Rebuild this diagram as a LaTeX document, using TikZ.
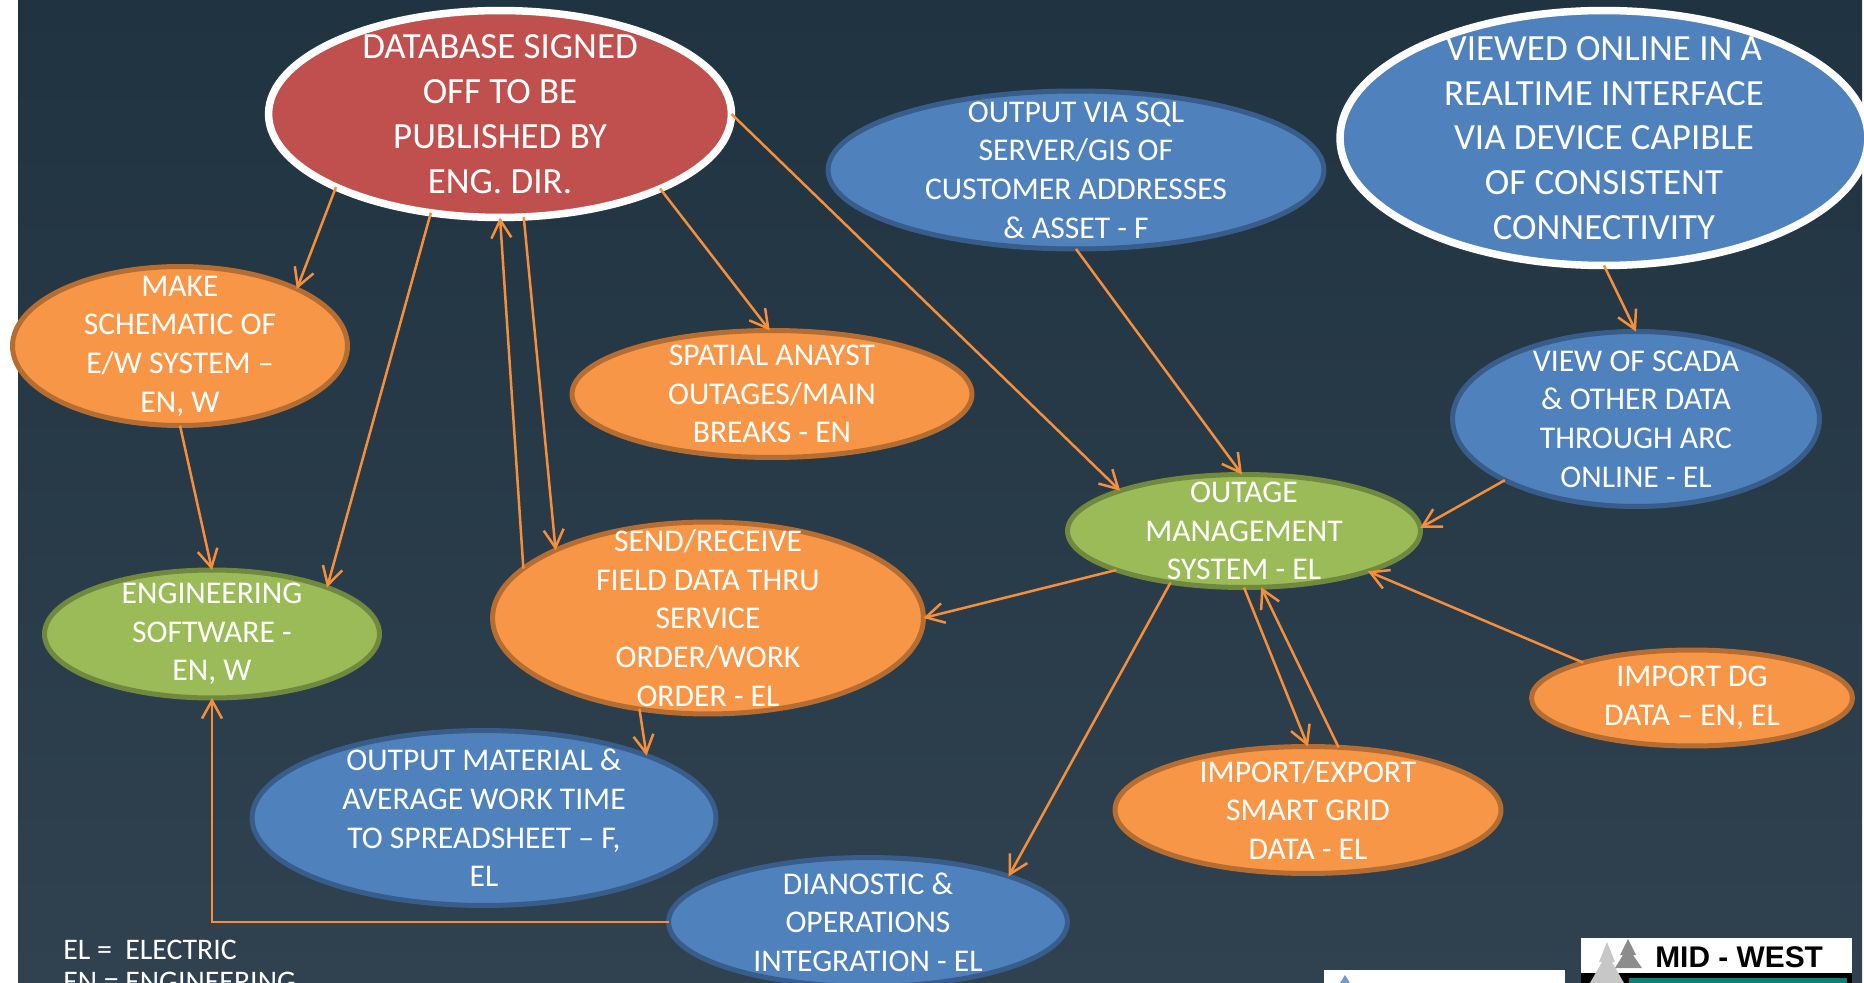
\documentclass[tikz,border=0pt]{standalone}
\usepackage{fontspec}
\setmainfont{Carlito}
\newfontfamily\logofont{Liberation Sans}
\usetikzlibrary{arrows.meta,shapes.geometric}

\definecolor{nightblue}{HTML}{203340}
\definecolor{dusk}{HTML}{304250}
\definecolor{ovalorange}{HTML}{F79646}
\definecolor{ovalorangeline}{HTML}{B66D31}
\definecolor{ovalblue}{HTML}{4F81BD}
\definecolor{ovalblueline}{HTML}{385D8A}
\definecolor{ovalgreen}{HTML}{9BBB59}
\definecolor{ovalgreenline}{HTML}{71893F}
\definecolor{ovalred}{HTML}{C0504D}
\definecolor{linkorange}{HTML}{F68F3C}
\definecolor{logoteal}{HTML}{0F7F78}

\tikzset{
    oval/.style={ellipse, inner sep=-2cm, outer sep=0pt, align=center, text=white, line width=0.1cm,
        font=\fontsize{18}{22}\selectfont},
    orangeoval/.style={oval, fill=ovalorange, draw=ovalorangeline},
    blueoval/.style={oval, fill=ovalblue, draw=ovalblueline},
    greenoval/.style={oval, fill=ovalgreen, draw=ovalgreenline},
    whiteoval/.style={oval, draw=white, line width=0.15cm, font=\fontsize{21}{25.5}\selectfont},
    link/.style={draw=linkorange, line width=0.05cm, -{Straight Barb[length=3.6mm,width=4mm]}},
    legend/.style={anchor=west, text=white, inner sep=0pt, font=\fontsize{17}{20}\selectfont},
}

\begin{document}
\begin{tikzpicture}[x=0.02cm, y=-0.02cm]
            \clip (0, 0) rectangle (1864, 983);
            \fill[white] (0, 0) rectangle (1864, 983);
            \shade[top color=nightblue, bottom color=dusk] (18, 0) rectangle (1862, 983);

            % the ovals
            \node[whiteoval, fill=ovalred, minimum width=9.26cm, minimum height=4.14cm] (signoff) at (500, 114)
                {DATABASE SIGNED\\OFF TO BE\\PUBLISHED BY\\ENG. DIR.};
            \node[whiteoval, fill=ovalblue, minimum width=10.56cm, minimum height=5.1cm] (realtime) at (1604, 138)
                {VIEWED ONLINE IN A\\REALTIME INTERFACE\\VIA DEVICE CAPIBLE\\OF CONSISTENT\\CONNECTIVITY};
            \node[blueoval, minimum width=9.92cm, minimum height=3.16cm] (sqlout) at (1076, 170)
                {OUTPUT VIA SQL\\SERVER/GIS OF\\CUSTOMER ADDRESSES\\\& ASSET - F};
            \node[blueoval, minimum width=7.34cm, minimum height=3.5cm] (scada) at (1636, 419)
                {VIEW OF SCADA\\\& OTHER DATA\\THROUGH ARC\\ONLINE - EL};
            \node[orangeoval, minimum width=6.7cm, minimum height=3.18cm] (schematic) at (180, 346)
                {MAKE\\SCHEMATIC OF\\E/W SYSTEM --\\EN, W};
            \node[orangeoval, minimum width=8cm, minimum height=2.54cm] (spatial) at (772, 394)
                {SPATIAL ANAYST\\OUTAGES/MAIN\\BREAKS - EN};
            \node[greenoval, minimum width=7.06cm, minimum height=2.26cm] (outage) at (1244, 531)
                {OUTAGE\\MANAGEMENT\\SYSTEM - EL};
            \node[greenoval, minimum width=6.7cm, minimum height=2.56cm] (engsoft) at (212, 634)
                {ENGINEERING\\SOFTWARE -\\EN, W};
            \node[orangeoval, minimum width=8.62cm, minimum height=3.84cm] (fielddata) at (708, 618)
                {SEND/RECEIVE\\FIELD DATA THRU\\SERVICE\\ORDER/WORK\\ORDER - EL};
            \node[orangeoval, minimum width=6.42cm, minimum height=1.92cm] (importdg) at (1692, 698)
                {IMPORT DG\\DATA -- EN, EL};
            \node[orangeoval, minimum width=7.72cm, minimum height=2.54cm] (smartgrid) at (1308, 810)
                {IMPORT/EXPORT\\SMART GRID\\DATA - EL};
            \node[blueoval, minimum width=9.28cm, minimum height=3.5cm] (material) at (484, 818)
                {OUTPUT MATERIAL \&\\AVERAGE WORK TIME\\TO SPREADSHEET -- F,\\EL};
            \node[blueoval, minimum width=7.98cm, minimum height=2.58cm] (diagnostic) at (868, 922)
                {DIANOSTIC \&\\OPERATIONS\\INTEGRATION - EL};

            % the connectors
            \draw[link] (signoff.204) -- (schematic.26);
            \draw[link] (signoff.235) -- (engsoft.22);
            \draw[link] (fielddata.165) -- (signoff.270);
            \draw[link] (signoff.283) -- (fielddata.156);
            \draw[link] (signoff.335) -- (spatial.92);
            \draw[link] (signoff.0) -- (outage.162);
            \draw[link] (sqlout.270) -- (outage.92);
            \draw[link] (realtime.270) -- (scada.90);
            \draw[link] (scada.205) -- (outage.1);
            \draw[link] (importdg.162) -- (outage.342);
            \draw[link] (outage.270) -- (smartgrid.90);
            \draw[link] (smartgrid.64) -- (outage.287);
            \draw[link] (outage.197) -- (fielddata.0);
            \draw[link] (outage.215) -- (diagnostic.18);
            \draw[link] (fielddata.233) -- (material.21);
            \draw[link] (schematic.270) -- (engsoft.90);
            \draw[link] (diagnostic.180) -| (engsoft.270);

            % legend
            \node[legend] (legendel) at (63, 950) {\makebox[1.24cm][l]{EL =}ELECTRIC};
            \node[legend] (legenden) at (63, 982) {\makebox[1.24cm][l]{EN =}ENGINEERING};

            % logos
            \fill[white] (1324, 970) rectangle (1565, 983);
            \fill[ovalblue!80] (1345, 975) -- (1340, 983) -- (1350, 983) -- cycle;
            \fill[white] (1581, 938) rectangle (1852, 983);
            \fill[black] (1581, 973) rectangle (1852, 983);
            \fill[logoteal] (1629, 978) rectangle (1847, 983);
            \fill[black!45] (1628, 939) -- (1636, 955) -- (1633, 955) -- (1642, 968) -- (1615, 968) -- (1623, 955) -- (1620, 955) -- cycle;
            \fill[black!22] (1607, 942) -- (1615, 962) -- (1612, 962) -- (1624, 983) -- (1590, 983) -- (1602, 962) -- (1599, 962) -- cycle;
            \node[anchor=west, inner sep=0pt, font=\logofont\bfseries\fontsize{17}{20}\selectfont] (midwest) at (1655, 957) {MID - WEST};
\end{tikzpicture}
\end{document}
